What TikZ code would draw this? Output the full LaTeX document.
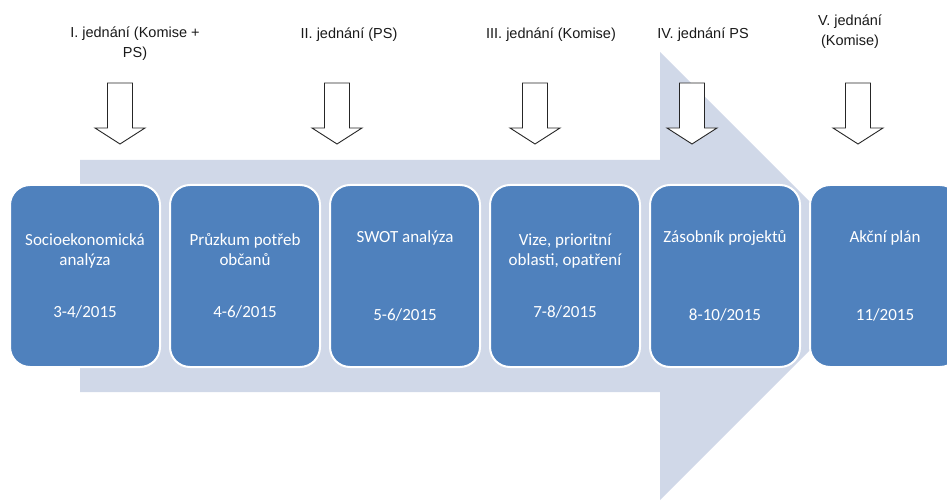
\documentclass[tikz,border=0pt]{standalone}
\usepackage{fontspec}
\setmainfont{Carlito}
\newfontfamily\meetingfont{Liberation Sans}
\usepackage{tikz}
\usetikzlibrary{positioning}

\definecolor{phaseblue}{HTML}{4F81BD}
\definecolor{bandgray}{HTML}{D0D8E8}

\begin{document}
\begin{tikzpicture}[x=1pt,y=-1pt,node distance=8pt,
    phase/.style={draw=white,line width=2pt,fill=phaseblue,rounded corners=20pt,
      minimum width=150pt,minimum height=182pt,text=white,align=center,
      font=\fontsize{17}{20}\selectfont},
    meeting/.style={align=center,text=black!90,font=\meetingfont\fontsize{14.5}{20}\selectfont},
    hollow/.style={draw=black!85,fill=white,line width=0.9pt}]
  \useasboundingbox (0,0) rectangle (947,502);
  \clip (0,0) rectangle (947,502);
  \fill[bandgray] (80,160) -- (660,160) -- (660,52) -- (884,276)
    -- (660,500) -- (660,392) -- (80,392) -- cycle;

  \node[phase] (socio) at (85,276) {Socioekonomická\\analýza\\[32pt]3-4/2015};
  \node[phase,right=of socio] (pruzkum) {Průzkum potřeb\\občanů\\[32pt]4-6/2015};
  \node[phase,right=of pruzkum] (swot) {SWOT analýza\\[58pt]5-6/2015};
  \node[phase,right=of swot] (vize) {Vize, prioritní\\oblasti, opatření\\[32pt]7-8/2015};
  \node[phase,right=of vize] (zasobnik) {Zásobník projektů\\[58pt]8-10/2015};
  \node[phase,right=of zasobnik] (akcni) {Akční plán\\[58pt]11/2015};

  \foreach \x in {120,337,535,692,858}
    \draw[hollow] (\x-12.5,83) -- (\x+12.5,83) -- (\x+12.5,128) -- (\x+25,128)
      -- (\x,144) -- (\x-25,128) -- (\x-12.5,128) -- cycle;

  \node[meeting] (j1) at (135,44) {I. jednání (Komise +\\PS)};
  \node[meeting] (j2) at (349,35) {II. jednání (PS)};
  \node[meeting] (j3) at (551,35) {III. jednání (Komise)};
  \node[meeting] (j4) at (703,35) {IV. jednání PS};
  \node[meeting] (j5) at (850,32) {V. jednání\\(Komise)};
\end{tikzpicture}
\end{document}
